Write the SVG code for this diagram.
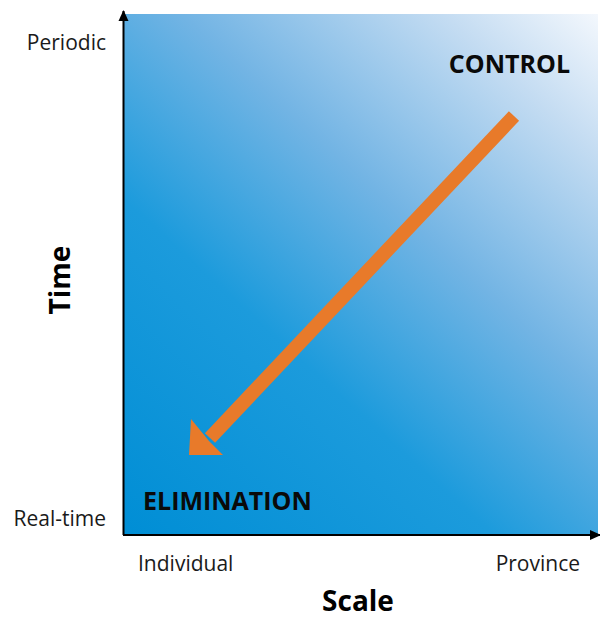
<svg xmlns="http://www.w3.org/2000/svg" width="600" height="619" viewBox="0 0 600 619">
<defs>
<linearGradient id="bg" gradientUnits="userSpaceOnUse" x1="125" y1="533" x2="598" y2="12">
<stop offset="0" stop-color="#008ed5"/>
<stop offset="0.35" stop-color="#1c9bdc"/>
<stop offset="0.6" stop-color="#72b4e4"/>
<stop offset="0.85" stop-color="#c4dcf2"/>
<stop offset="1" stop-color="#f4f8fd"/>
</linearGradient>
<marker id="ax" markerWidth="12" markerHeight="12" refX="10" refY="6" orient="auto" markerUnits="userSpaceOnUse">
<path d="M0,1 L11,6 L0,11 Z" fill="#000"/>
</marker>
<style>
.lbl{font-family:"Open Sans","Liberation Sans",sans-serif;font-size:21px;fill:#1a1a1a}
.ttl{font-family:"Open Sans","Liberation Sans",sans-serif;font-size:28px;font-weight:bold;fill:#000}
.reg{font-family:"Open Sans","Liberation Sans",sans-serif;font-size:25px;font-weight:bold;fill:#0a0a0a}
</style>
</defs>
<g id="plot">
<rect x="124" y="14" width="474" height="520" fill="url(#bg)"/>
</g>
<g id="connectors">
<line x1="123.5" y1="535" x2="123.5" y2="11" stroke="#000" stroke-width="2" marker-end="url(#ax)"/>
<line x1="123" y1="535" x2="600" y2="535" stroke="#000" stroke-width="2" marker-end="url(#ax)"/>
<line x1="514" y1="116" x2="210" y2="438" stroke="#e87a2a" stroke-width="14"/>
<path d="M191,419 L189,455 L223,455 L209,441 Z" fill="#e87a2a"/>
</g>
<g id="labels">
<text class="lbl" x="106" y="50" text-anchor="end">Periodic</text>
<text class="lbl" x="106" y="526" text-anchor="end">Real-time</text>
<text class="lbl" x="138" y="571">Individual</text>
<text class="lbl" x="580" y="571" text-anchor="end">Province</text>
<text class="ttl" x="358" y="611" text-anchor="middle">Scale</text>
<text class="ttl" transform="translate(70,280) rotate(-90)" text-anchor="middle">Time</text>
</g>
<g id="control"><text class="reg" x="570" y="73" text-anchor="end">CONTROL</text></g>
<g id="elimination"><text class="reg" x="143" y="510">ELIMINATION</text></g>
</svg>
